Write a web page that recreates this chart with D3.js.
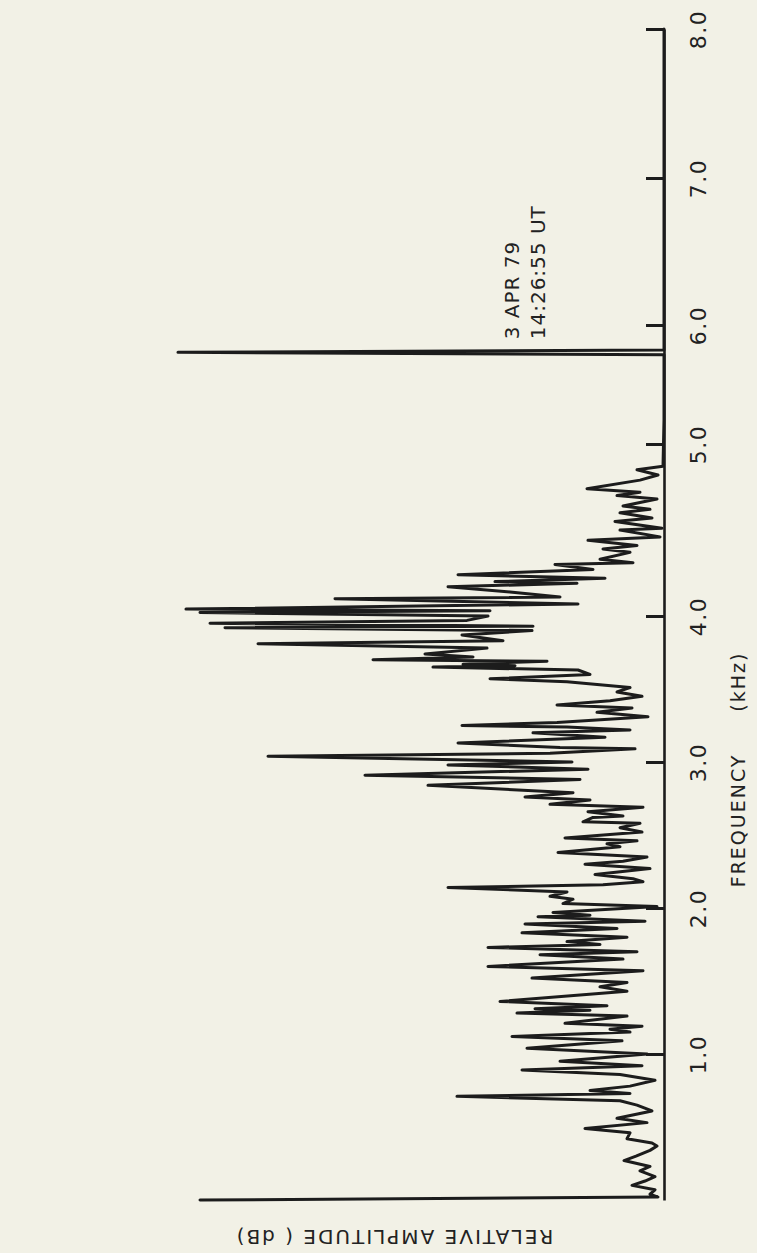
<!DOCTYPE html>
<html>
<head>
<meta charset="utf-8">
<script src="https://cdn.jsdelivr.net/npm/d3@7"></script>
<style>
  html, body { margin: 0; padding: 0; background: #f2f1e6; }
  svg { display: block; }
  text { font-family: "DejaVu Sans", sans-serif; fill: #222; }
</style>
</head>
<body>
<svg id="chart" width="757" height="1253"></svg>
<script>
// spectrum (kHz, relative dB)
var freqKHz = [0.00, 0.02, 0.04, 0.07, 0.10, 0.13, 0.16, 0.20, 0.23, 0.27, 0.30, 0.34, 0.37, 0.39, 0.42, 0.46, 0.49, 0.53, 0.56, 0.61,
  0.65, 0.68, 0.71, 0.73, 0.75, 0.78, 0.82, 0.86, 0.89, 0.92, 0.95, 1.00, 1.04, 1.09, 1.12, 1.15, 1.17, 1.19, 1.21, 1.26,
  1.28, 1.30, 1.31, 1.33, 1.36, 1.43, 1.46, 1.49, 1.52, 1.57, 1.60, 1.65, 1.68, 1.70, 1.73, 1.75, 1.77, 1.80, 1.83, 1.86,
  1.89, 1.91, 1.94, 1.95, 1.97, 2.01, 2.03, 2.06, 2.08, 2.11, 2.14, 2.16, 2.18, 2.20, 2.23, 2.27, 2.30, 2.32, 2.35, 2.38,
  2.42, 2.44, 2.46, 2.48, 2.52, 2.55, 2.58, 2.59, 2.62, 2.63, 2.66, 2.69, 2.71, 2.74, 2.76, 2.79, 2.84, 2.88, 2.91, 2.95,
  2.98, 3.00, 3.04, 3.06, 3.09, 3.10, 3.13, 3.17, 3.20, 3.22, 3.24, 3.25, 3.27, 3.31, 3.34, 3.37, 3.39, 3.42, 3.45, 3.48,
  3.51, 3.55, 3.57, 3.60, 3.63, 3.65, 3.66, 3.67, 3.69, 3.70, 3.72, 3.74, 3.78, 3.81, 3.83, 3.87, 3.90, 3.92, 3.93, 3.95,
  3.97, 4.00, 4.02, 4.03, 4.04, 4.07, 4.10, 4.11, 4.14, 4.17, 4.19, 4.20, 4.22, 4.24, 4.27, 4.30, 4.31, 4.33, 4.37, 4.39,
  4.41, 4.44, 4.46, 4.50, 4.51, 4.55, 4.57, 4.60, 4.62, 4.64, 4.68, 4.70, 4.72, 4.74, 4.79, 4.82, 4.85, 4.87, 5.20, 5.75,
  5.77, 5.79, 8.00]

var ampDB = [46.4, 0.6, 1.4, 0.9, 3.2, 1.9, 0.9, 2.4, 1.4, 4.0, 2.8, 1.4, 0.7, 1.2, 3.7, 3.4, 7.9, 1.7, 4.7, 1.2,
  2.7, 4.4, 20.7, 3.4, 7.4, 3.4, 0.9, 4.4, 14.2, 2.2, 10.4, 1.7, 13.7, 4.2, 15.2, 3.4, 5.4, 2.2, 9.9, 3.7,
  14.7, 7.4, 12.9, 5.7, 16.4, 3.7, 6.4, 3.7, 13.2, 2.1, 17.6, 4.1, 12.4, 2.7, 17.6, 6.4, 9.7, 3.7, 14.2, 4.7,
  13.9, 1.9, 12.6, 7.4, 11.1, 0.7, 10.1, 9.1, 11.4, 9.7, 21.6, 6.1, 2.1, 3.1, 6.9, 1.4, 7.9, 4.1, 1.7, 10.6,
  4.4, 5.7, 2.7, 9.9, 2.2, 4.4, 2.4, 8.1, 7.1, 4.1, 7.6, 2.1, 11.4, 7.4, 13.9, 9.1, 23.6, 8.4, 29.9, 7.6,
  21.6, 9.2, 39.6, 11.4, 2.9, 10.4, 20.6, 5.9, 13.1, 3.4, 9.7, 20.2, 10.7, 1.6, 6.7, 3.2, 10.7, 5.4, 2.2, 4.7,
  3.4, 9.7, 17.4, 7.4, 8.6, 23.1, 14.9, 20.1, 11.7, 29.1, 19.1, 23.9, 17.7, 40.6, 16.1, 20.2, 13.2, 43.9, 13.1, 45.4,
  19.7, 17.6, 46.4, 17.4, 47.8, 8.6, 32.9, 10.4, 15.4, 21.6, 8.7, 16.9, 5.9, 20.6, 7.1, 10.9, 3.1, 6.4, 3.4, 6.1,
  2.7, 7.6, 0.4, 4.4, 0.2, 4.9, 1.2, 4.4, 1.4, 4.1, 0.7, 4.7, 2.4, 7.7, 2.4, 0.6, 2.7, 0.1, 0, 0,
  48.6, 0, 0]

var freqTicks = [1, 2, 3, 4, 5, 6, 7, 8]
var freqTickLabels = ['1.0', '2.0', '3.0', '4.0', '5.0', '6.0', '7.0', '8.0']
// the plotted frequency axis is not quite even: where each whole kHz sits on the page
var freqKnots = [0, 1, 2, 3, 4, 5, 6, 7, 8]
var freqKnotPx = [1200, 1054, 908, 762, 616, 444, 325, 178, 29]
var stampLines = ['3 APR 79', '14:26:55 UT']
var freqTitle = ['FREQUENCY', '(kHz)']
var ampTitle = 'RELATIVE AMPLITUDE ( dB)'

var svg = d3.select('svg#chart')
var ink = '#1c1c1c'

// plot is turned on its side: frequency runs up, amplitude runs left
var y = d3.scaleLinear().domain(freqKnots).range(freqKnotPx)
var x = d3.scaleLinear().domain([0, 50]).range([664, 164])

var points = freqKHz.map(function(f, i) { return {f: f, a: ampDB[i]} })

var line = d3.line()
  .x(function(d) { return x(d.a) })
  .y(function(d) { return y(d.f) })

svg.append('path')
  .datum(points)
  .attr('d', line)
  .attr('fill', 'none')
  .attr('stroke', ink)
  .attr('stroke-width', 3)
  .attr('stroke-linejoin', 'round')
  .attr('stroke-linecap', 'round')

// frequency axis
var axis = svg.append('g')
  .attr('transform', 'translate(' + x(0) + ',0)')
  .call(d3.axisRight(y)
    .tickValues(freqTicks)
    .tickFormat(function(d, i) { return freqTickLabels[i] })
    .tickSizeInner(-18)
    .tickSizeOuter(0))

axis.select('.domain').attr('stroke', ink).attr('stroke-width', 2.6)
axis.selectAll('.tick line').attr('stroke', ink).attr('stroke-width', 3)
axis.selectAll('.tick text')
  .attr('x', null).attr('dy', null)
  .attr('transform', 'translate(34,0) rotate(-90)')
  .attr('text-anchor', 'middle')
  .attr('dominant-baseline', 'central')
  .style('font-size', '22px')
  .style('letter-spacing', '1.5px')
  .attr('fill', ink)

// axis titles
svg.append('text')
  .attr('transform', 'translate(738,' + y(2.6) + ') rotate(-90)')
  .attr('text-anchor', 'middle')
  .attr('dominant-baseline', 'central')
  .style('font-size', '19px')
  .style('letter-spacing', '2px')
  .text(freqTitle[0])

svg.append('text')
  .attr('transform', 'translate(738,' + y(3.55) + ') rotate(-90)')
  .attr('text-anchor', 'middle')
  .attr('dominant-baseline', 'central')
  .style('font-size', '19px')
  .style('letter-spacing', '2px')
  .text(freqTitle[1])

svg.append('text')
  .attr('transform', 'translate(' + x(27) + ',1237) rotate(180)')
  .attr('text-anchor', 'middle')
  .attr('dominant-baseline', 'central')
  .style('font-size', '20px')
  .style('letter-spacing', '2px')
  .text(ampTitle)

// time stamp
svg.append('g')
  .attr('transform', 'translate(' + x(14.5) + ',' + y(5.88) + ') rotate(-90)')
  .selectAll('text')
  .data(stampLines)
  .enter()
  .append('text')
  .attr('x', 0)
  .attr('y', function(d, i) { return i * 26 })
  .style('font-size', '20px')
  .style('letter-spacing', '1px')
  .text(function(d) { return d })
</script>
</body>
</html>
